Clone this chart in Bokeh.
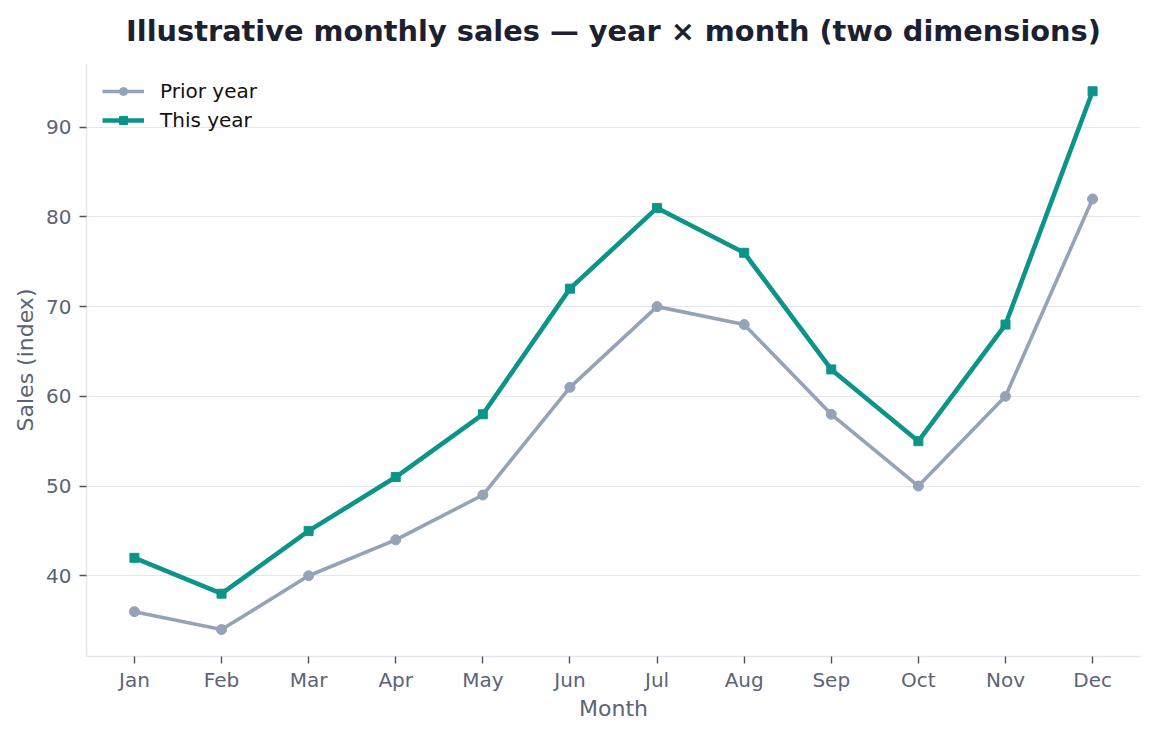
from bokeh.plotting import figure
from bokeh.models import FixedTicker, Range1d, Legend, LegendItem, Title
from bokeh.embed import file_html
from bokeh.resources import INLINE

months = ["Jan", "Feb", "Mar", "Apr", "May", "Jun", "Jul", "Aug", "Sep", "Oct", "Nov", "Dec"]
prior_year = [36, 34, 40, 44, 49, 61, 70, 68, 58, 50, 60, 82]
this_year = [42, 38, 45, 51, 58, 72, 81, 76, 63, 55, 68, 94]
y_ticks = [40, 50, 60, 70, 80, 90]

x = list(range(len(months)))

FONT = "DejaVu Sans"
TICK_COLOR = "#4b5563"
LABEL_COLOR = "#5b6476"
SPINE = "#e5e7eb"

p = figure(width=1156, height=735, output_backend="svg", toolbar_location=None,
           x_range=Range1d(-0.55, 11.55), y_range=Range1d(31, 97.1),
           min_border_left=86, min_border_right=16, min_border_top=63, min_border_bottom=79)
p.title = Title(text="Illustrative monthly sales \u2014 year \u00d7 month (two dimensions)",
                text_font=FONT, text_font_size="28.8px", text_font_style="bold",
                text_color="#1b2130", align="center", vertical_align="top",
                offset=0, standoff=27)
p.outline_line_color = None
p.background_fill_color = "white"

p.xaxis.ticker = FixedTicker(ticks=x)
p.xaxis.major_label_overrides = {i: m for i, m in enumerate(months)}
p.yaxis.ticker = FixedTicker(ticks=y_ticks)

for ax in (p.xaxis, p.yaxis):
    ax.axis_line_color = SPINE
    ax.axis_line_width = 1.5
    ax.major_tick_line_color = TICK_COLOR
    ax.major_tick_line_width = 1.4
    ax.major_tick_in = 0
    ax.major_tick_out = 7
    ax.minor_tick_line_color = None
    ax.major_label_text_font = FONT
    ax.major_label_text_font_size = "20px"
    ax.major_label_text_color = LABEL_COLOR
    ax.axis_label_text_font = FONT
    ax.axis_label_text_font_size = "22px"
    ax.axis_label_text_color = LABEL_COLOR
    ax.axis_label_text_font_style = "normal"

p.xaxis.axis_label = "Month"
p.yaxis.axis_label = "Sales (index)"
p.xaxis.major_label_standoff = 4
p.xaxis.axis_label_standoff = 1
p.yaxis.major_label_standoff = 8
p.yaxis.axis_label_standoff = 5

p.xgrid.grid_line_color = None
p.ygrid.grid_line_color = SPINE
p.ygrid.grid_line_width = 1.2

l1 = p.line(x, prior_year, line_color="#94a3b8", line_width=3.6)
m1 = p.scatter(x, prior_year, marker="circle", size=10, fill_color="#94a3b8", line_color="#94a3b8")
l2 = p.line(x, this_year, line_color="#0d9488", line_width=4.6)
m2 = p.scatter(x, this_year, marker="square", size=9, fill_color="#0d9488", line_color="#0d9488")

legend = Legend(items=[LegendItem(label="Prior year", renderers=[l1, m1]),
                       LegendItem(label="This year", renderers=[l2, m2])],
                location="top_left", border_line_color=None, background_fill_alpha=0,
                label_text_font=FONT, label_text_font_size="20px", label_text_color="#111111",
                glyph_width=42, spacing=5, margin=16, padding=5, label_standoff=16)
p.add_layout(legend)

open("out.html", "w").write(file_html(p, INLINE))
